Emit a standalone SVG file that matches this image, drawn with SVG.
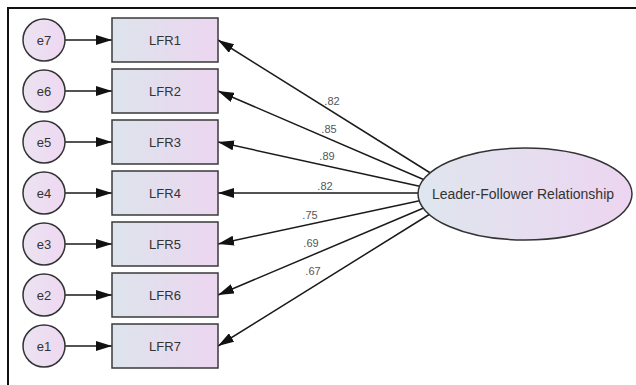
<svg xmlns="http://www.w3.org/2000/svg" width="636" height="385" viewBox="0 0 636 385">
  <defs>
    <linearGradient id="boxFill" x1="0" y1="0" x2="1" y2="0">
      <stop offset="0" stop-color="#dde4ec"/>
      <stop offset="1" stop-color="#ecd6f0"/>
    </linearGradient>
    <linearGradient id="errFill" x1="0" y1="0" x2="1" y2="0">
      <stop offset="0" stop-color="#ebe3f1"/>
      <stop offset="1" stop-color="#efd8f2"/>
    </linearGradient>
    <linearGradient id="latentFill" x1="0" y1="0" x2="1" y2="0">
      <stop offset="0" stop-color="#dfe6ee"/>
      <stop offset="1" stop-color="#edd5f1"/>
    </linearGradient>
    <marker id="head" markerUnits="userSpaceOnUse" markerWidth="16" markerHeight="10" refX="16" refY="5" orient="auto">
      <path d="M0,0 L16,5 L0,10 z" fill="#111"/>
    </marker>
    <style>
      .frame { stroke: #111; stroke-width: 2; fill: none; }
      .err { fill: url(#errFill); stroke: #333; stroke-width: 1.5; }
      .box { fill: url(#boxFill); stroke: #3a3a3a; stroke-width: 1.5; }
      .latent { fill: url(#latentFill); stroke: #333; stroke-width: 1.5; }
      .edge { stroke: #1a1a1a; stroke-width: 1.5; fill: none; marker-end: url(#head); }
      .lbl { font-family: "Liberation Sans", Arial, sans-serif; font-size: 13px; fill: #333; text-anchor: middle; }
      .big { font-family: "Liberation Sans", Arial, sans-serif; font-size: 14px; fill: #333; text-anchor: middle; }
      .w { font-family: "Liberation Sans", Arial, sans-serif; font-size: 11px; fill: #555; text-anchor: middle; }
    </style>
  </defs>

  <rect width="636" height="385" fill="#fff"/>
  <!-- open frame: top and left rules -->
  <path class="frame" d="M8,385 L8,8 L636,8"/>

  <g id="connectors">
    <!-- error terms to indicators -->
    <line class="edge" x1="65" y1="40" x2="112" y2="40"/>
    <line class="edge" x1="65" y1="91" x2="112" y2="91"/>
    <line class="edge" x1="65" y1="142" x2="112" y2="142"/>
    <line class="edge" x1="65" y1="193" x2="112" y2="193"/>
    <line class="edge" x1="65" y1="244" x2="112" y2="244"/>
    <line class="edge" x1="65" y1="295" x2="112" y2="295"/>
    <line class="edge" x1="65" y1="346" x2="112" y2="346"/>
    <!-- latent factor to indicators -->
    <line class="edge" x1="432" y1="174" x2="218" y2="40"/>
    <line class="edge" x1="427" y1="181" x2="218" y2="91"/>
    <line class="edge" x1="423" y1="187" x2="218" y2="142"/>
    <line class="edge" x1="422" y1="193" x2="218" y2="193"/>
    <line class="edge" x1="423" y1="200" x2="218" y2="244"/>
    <line class="edge" x1="426" y1="207" x2="218" y2="295"/>
    <line class="edge" x1="430" y1="214" x2="218" y2="346"/>
    <!-- loadings -->
    <text class="w" x="332" y="105">.82</text>
    <text class="w" x="329" y="133">.85</text>
    <text class="w" x="327" y="160">.89</text>
    <text class="w" x="325" y="190">.82</text>
    <text class="w" x="310" y="219">.75</text>
    <text class="w" x="311" y="247">.69</text>
    <text class="w" x="313" y="275">.67</text>
  </g>

  <g id="e7"><circle class="err" cx="44" cy="40" r="21"/><text class="lbl" x="44" y="44.5">e7</text></g>
  <g id="e6"><circle class="err" cx="44" cy="91" r="21"/><text class="lbl" x="44" y="95.5">e6</text></g>
  <g id="e5"><circle class="err" cx="44" cy="142" r="21"/><text class="lbl" x="44" y="146.5">e5</text></g>
  <g id="e4"><circle class="err" cx="44" cy="193" r="21"/><text class="lbl" x="44" y="197.5">e4</text></g>
  <g id="e3"><circle class="err" cx="44" cy="244" r="21"/><text class="lbl" x="44" y="248.5">e3</text></g>
  <g id="e2"><circle class="err" cx="44" cy="295" r="21"/><text class="lbl" x="44" y="299.5">e2</text></g>
  <g id="e1"><circle class="err" cx="44" cy="346" r="21"/><text class="lbl" x="44" y="350.5">e1</text></g>

  <g id="LFR1"><rect class="box" x="112" y="18" width="106" height="44"/><text class="lbl" x="165" y="44.5">LFR1</text></g>
  <g id="LFR2"><rect class="box" x="112" y="69" width="106" height="44"/><text class="lbl" x="165" y="95.5">LFR2</text></g>
  <g id="LFR3"><rect class="box" x="112" y="120" width="106" height="44"/><text class="lbl" x="165" y="146.5">LFR3</text></g>
  <g id="LFR4"><rect class="box" x="112" y="171" width="106" height="44"/><text class="lbl" x="165" y="197.5">LFR4</text></g>
  <g id="LFR5"><rect class="box" x="112" y="222" width="106" height="44"/><text class="lbl" x="165" y="248.5">LFR5</text></g>
  <g id="LFR6"><rect class="box" x="112" y="273" width="106" height="44"/><text class="lbl" x="165" y="299.5">LFR6</text></g>
  <g id="LFR7"><rect class="box" x="112" y="324" width="106" height="44"/><text class="lbl" x="165" y="350.5">LFR7</text></g>

  <g id="LeaderFollowerRelationship">
    <ellipse class="latent" cx="525" cy="194" rx="107" ry="46"/>
    <text class="big" x="523" y="199">Leader-Follower Relationship</text>
  </g>
</svg>
